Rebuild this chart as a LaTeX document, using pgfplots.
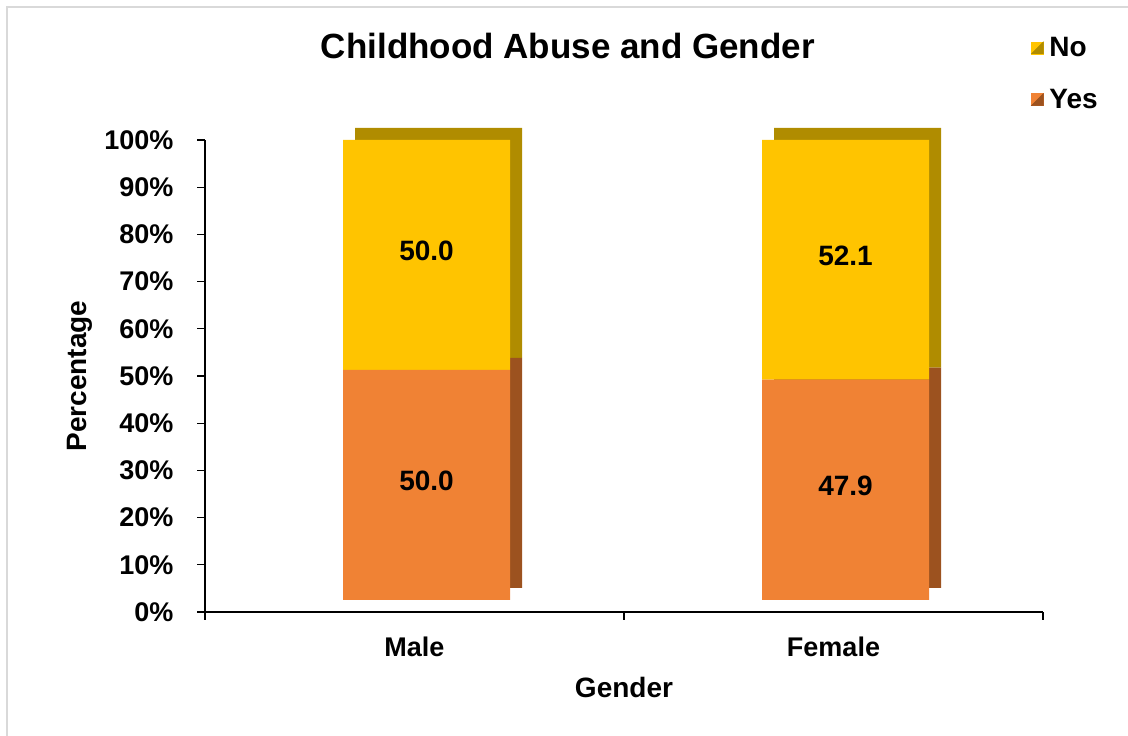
\documentclass[border=0pt]{standalone}
\usepackage{pgfplots}
\pgfplotsset{compat=1.18}
\usepackage{pgfplotstable}
\usepackage{fontspec}
\setmainfont{Liberation Sans}

\definecolor{noFront}{HTML}{FFC400}
\definecolor{noSide}{HTML}{B08C00}
\definecolor{yesFront}{HTML}{F08234}
\definecolor{yesSide}{HTML}{9C521F}
\definecolor{frameGray}{HTML}{D9D9D9}

\pgfplotstableread{
x gender yes no
0 Male   50.0 50.0
1 Female 47.9 52.1
}\abuse

\pgfplotsset{
  barbox/.style={scale only axis, width=838pt, height=460pt,
    xmin=-0.5, xmax=1.5, ymin=0, ymax=100, hide axis, anchor=south west},
  barframe/.style={barbox, ybar stacked, bar width=167pt, bar shift=12pt},
}

\begin{document}
\begin{tikzpicture}[x=1pt,y=1pt]
\useasboundingbox (0,0) rectangle (1128,736);
\draw[frameGray, line width=2pt] (7,-2) -- (7,729) -- (1130,729);

% depth of the columns: the same stacks, pushed up and to the right
\begin{axis}[barframe, at={(217pt,148pt)}]
\addplot[fill=yesSide, draw=none] table[x=x, y=yes] {\abuse};
\addplot[fill=noSide, draw=none] table[x=x, y=no] {\abuse};
\end{axis}

% front faces of the columns
\begin{axis}[barframe, at={(205pt,136pt)}]
\addplot[fill=yesFront, draw=none] table[x=x, y=yes] {\abuse};
\addplot[fill=noFront, draw=none] table[x=x, y=no] {\abuse};
\end{axis}

% value labels in the middle of each segment
\begin{axis}[barbox, at={(205pt,136pt)},
  /pgf/number format/assume math mode=true,
  /pgf/number format/fixed, /pgf/number format/fixed zerofill,
  /pgf/number format/precision=1,
  nodes near coords style={anchor=center, xshift=12pt, yshift=4pt,
    font=\fontsize{28}{32}\selectfont\bfseries, text=black}]
\addplot[only marks, mark=*, mark size=0pt, mark options={draw=none, fill=none},
  nodes near coords, point meta=explicit]
  table[x=x, y expr=\thisrow{yes}/2, meta=yes] {\abuse};
\addplot[only marks, mark=*, mark size=0pt, mark options={draw=none, fill=none},
  nodes near coords, point meta=explicit]
  table[x=x, y expr=\thisrow{yes}+\thisrow{no}/2, meta=no] {\abuse};
\end{axis}

% axes, ticks, labels, title and legend
\begin{axis}[scale only axis, at={(205pt,124pt)}, anchor=south west,
  width=838pt, height=472pt,
  xmin=-0.5, xmax=1.5, ymin=0, ymax=100,
  axis x line*=bottom, axis y line*=left,
  axis line style={black, line width=1.2pt},
  ytick={0,10,...,100},
  yticklabel={\pgfmathprintnumber{\tick}\%},
  yticklabel style={xshift=-20pt},
  xtick={-0.5,0.5,1.5}, xticklabels={},
  extra x ticks={0,1}, extra x tick labels={Male,Female},
  extra x tick style={major tick length=0pt},
  xticklabel style={yshift=-21pt},
  tick align=outside, major tick length=8pt,
  tick style={black, line width=1.2pt},
  /pgf/number format/assume math mode=true,
  tick label style={font=\fontsize{27}{32}\selectfont\bfseries},
  xlabel={Gender}, ylabel={Percentage},
  label style={font=\fontsize{28}{34}\selectfont\bfseries},
  xlabel style={at={(axis description cs:0.5,-0.161)}, anchor=center},
  ylabel style={at={(axis description cs:-0.149,0.5)}, anchor=center},
  title={Childhood Abuse and Gender},
  title style={font=\fontsize{35}{40}\selectfont\bfseries,
    at={(axis description cs:0.433,1.186)}, anchor=center},
  legend style={draw=none, fill=none, at={(axis description cs:0.9857,1.222)},
    anchor=north west, inner sep=0pt, row sep=27pt,
    font=\fontsize{28}{32}\selectfont\bfseries},
  legend cell align=left,
]
\addlegendimage{legend image code/.code={
  \fill[noFront] (0pt,-6pt) rectangle (12pt,6pt);
  \fill[noSide] (0pt,-6pt) -- (12pt,-6pt) -- (12pt,6pt) -- cycle;
  \path[draw=none, fill=none] (0pt,0pt) -- (16pt,0pt);}}
\addlegendentry{No}
\addlegendimage{legend image code/.code={
  \fill[yesFront] (0pt,-6pt) rectangle (12pt,6pt);
  \fill[yesSide] (0pt,-6pt) -- (12pt,-6pt) -- (12pt,6pt) -- cycle;
  \path[draw=none, fill=none] (0pt,0pt) -- (16pt,0pt);}}
\addlegendentry{Yes}
\end{axis}
\end{tikzpicture}
\end{document}
